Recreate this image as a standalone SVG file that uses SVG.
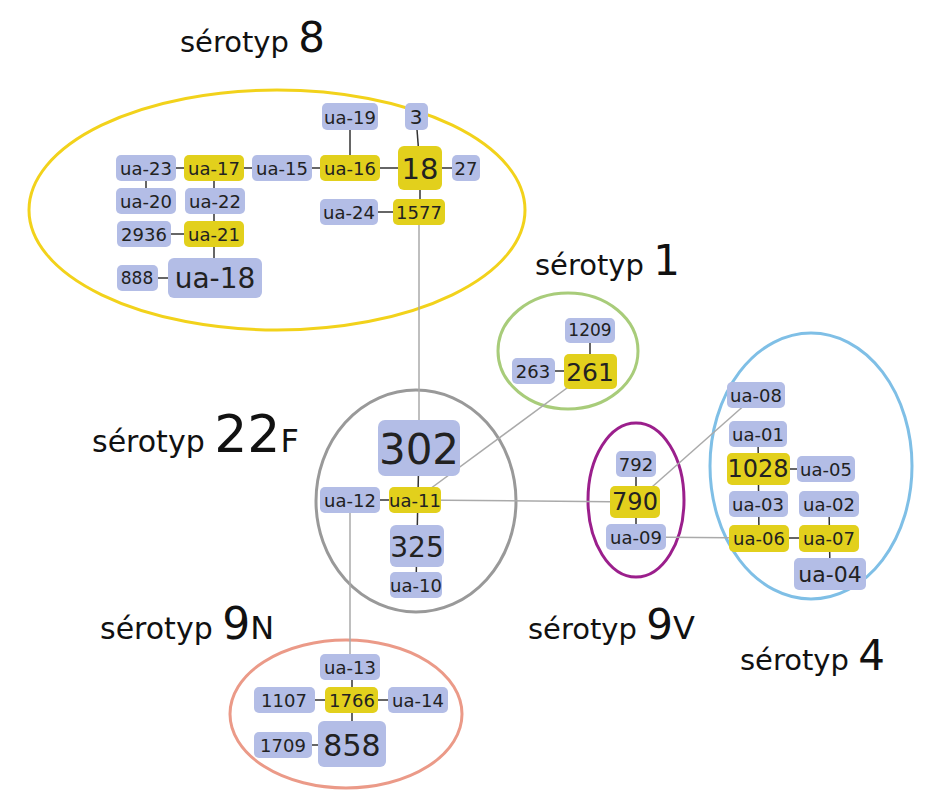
<svg xmlns="http://www.w3.org/2000/svg" width="925" height="800" viewBox="0 0 925 800">
<style>
.b{fill:#b3bde6}.y{fill:#e2d01c}
text{font-family:"DejaVu Sans","Liberation Sans",sans-serif;fill:#222;text-anchor:middle;dominant-baseline:central}
.s line{stroke:#333;stroke-width:1.5}.l line{stroke:#aaa;stroke-width:1.5}
.lab{text-anchor:start;dominant-baseline:auto;fill:#111}
</style>
<rect width="925" height="800" fill="#fff"/>
<g id="groups" fill="none" stroke-width="3">
<ellipse cx="277" cy="210" rx="248" ry="120" stroke="#f2d21b"/>
<ellipse cx="568" cy="351" rx="70" ry="58" stroke="#a8cc7a"/>
<ellipse cx="416" cy="501" rx="100" ry="111" stroke="#999"/>
<ellipse cx="636" cy="500" rx="48" ry="77" stroke="#9b1f8c"/>
<ellipse cx="811" cy="466" rx="101" ry="133" stroke="#7fbfe6"/>
<ellipse cx="346" cy="714" rx="116" ry="74" stroke="#eb9a88"/>
</g>
<g id="labels">
<text class="lab" x="180" y="52" font-size="29">sérotyp <tspan font-size="42">8</tspan></text>
<text class="lab" x="535" y="275" font-size="29">sérotyp <tspan font-size="42">1</tspan></text>
<text class="lab" x="92" y="452" font-size="30">sérotyp <tspan font-size="52">22</tspan><tspan font-size="32">F</tspan></text>
<text class="lab" x="100" y="639" font-size="30">sérotyp <tspan font-size="44">9</tspan><tspan font-size="32">N</tspan></text>
<text class="lab" x="528" y="639" font-size="29">sérotyp <tspan font-size="42">9</tspan><tspan font-size="32">V</tspan></text>
<text class="lab" x="740" y="670" font-size="29">sérotyp <tspan font-size="42">4</tspan></text>
</g>
<g id="connectors">
<g class="l">
<line x1="419" y1="212" x2="419" y2="440"/>
<line x1="415" y1="500" x2="590" y2="371"/>
<line x1="415" y1="500" x2="635" y2="502"/>
<line x1="635" y1="502" x2="756" y2="395"/>
<line x1="636" y1="537" x2="759" y2="538"/>
<line x1="350" y1="500" x2="350" y2="667"/>
</g>
<g class="s">
<line x1="350" y1="117" x2="350" y2="168"/>
<line x1="416" y1="117" x2="420" y2="168"/>
<line x1="146" y1="168" x2="466" y2="168"/>
<line x1="146" y1="168" x2="146" y2="201"/>
<line x1="214" y1="168" x2="214" y2="278"/>
<line x1="144" y1="234" x2="214" y2="234"/>
<line x1="137" y1="278" x2="215" y2="278"/>
<line x1="420" y1="168" x2="420" y2="212"/>
<line x1="349" y1="212" x2="419" y2="212"/>
<line x1="419" y1="448" x2="416" y2="585"/>
<line x1="350" y1="500" x2="415" y2="500"/>
<line x1="533" y1="371" x2="590" y2="371"/>
<line x1="590" y1="330" x2="590" y2="371"/>
<line x1="636" y1="464" x2="636" y2="537"/>
<line x1="758" y1="434" x2="759" y2="538"/>
<line x1="758" y1="469" x2="826" y2="469"/>
<line x1="759" y1="538" x2="829" y2="538"/>
<line x1="829" y1="504" x2="830" y2="574"/>
<line x1="352" y1="667" x2="352" y2="745"/>
<line x1="284" y1="700" x2="418" y2="700"/>
<line x1="283" y1="745" x2="352" y2="745"/>
</g>
</g>
<g id="n-ua19"><rect class="b" x="322" y="103" width="56" height="27" rx="5"/><text x="350" y="117" font-size="18">ua-19</text></g>
<g id="n-3"><rect class="b" x="405" y="103" width="23" height="27" rx="5"/><text x="416" y="117" font-size="20">3</text></g>
<g id="n-ua16"><rect class="y" x="320" y="155" width="60" height="26" rx="5"/><text x="350" y="168" font-size="18">ua-16</text></g>
<g id="n-18"><rect class="y" x="398" y="146" width="44" height="44" rx="6"/><text x="420" y="169" font-size="29">18</text></g>
<g id="n-27"><rect class="b" x="452" y="155" width="28" height="26" rx="5"/><text x="466" y="168" font-size="18">27</text></g>
<g id="n-ua15"><rect class="b" x="252" y="155" width="60" height="26" rx="5"/><text x="282" y="168" font-size="18">ua-15</text></g>
<g id="n-ua17"><rect class="y" x="184" y="155" width="60" height="26" rx="5"/><text x="214" y="168" font-size="18">ua-17</text></g>
<g id="n-ua23"><rect class="b" x="116" y="155" width="60" height="26" rx="5"/><text x="146" y="168" font-size="18">ua-23</text></g>
<g id="n-ua20"><rect class="b" x="116" y="188" width="60" height="26" rx="5"/><text x="146" y="201" font-size="18">ua-20</text></g>
<g id="n-ua22"><rect class="b" x="185" y="188" width="60" height="26" rx="5"/><text x="215" y="201" font-size="18">ua-22</text></g>
<g id="n-ua21"><rect class="y" x="184" y="221" width="60" height="26" rx="5"/><text x="214" y="234" font-size="18">ua-21</text></g>
<g id="n-2936"><rect class="b" x="117" y="221" width="54" height="26" rx="5"/><text x="144" y="234" font-size="18">2936</text></g>
<g id="n-ua18"><rect class="b" x="168" y="258" width="94" height="40" rx="6"/><text x="215" y="278" font-size="28">ua-18</text></g>
<g id="n-888"><rect class="b" x="117" y="265" width="41" height="26" rx="5"/><text x="137" y="278" font-size="17">888</text></g>
<g id="n-ua24"><rect class="b" x="320" y="199" width="58" height="26" rx="5"/><text x="349" y="212" font-size="18">ua-24</text></g>
<g id="n-1577"><rect class="y" x="393" y="199" width="52" height="26" rx="5"/><text x="419" y="212" font-size="18">1577</text></g>
<g id="n-1209"><rect class="b" x="565" y="318" width="50" height="25" rx="5"/><text x="590" y="330" font-size="17">1209</text></g>
<g id="n-261"><rect class="y" x="564" y="354" width="53" height="35" rx="5"/><text x="590" y="372" font-size="25">261</text></g>
<g id="n-263"><rect class="b" x="512" y="358" width="43" height="26" rx="5"/><text x="533" y="371" font-size="18">263</text></g>
<g id="n-302"><rect class="b" x="378" y="420" width="82" height="56" rx="7"/><text x="419" y="449" font-size="42">302</text></g>
<g id="n-ua11"><rect class="y" x="389" y="487" width="52" height="26" rx="5"/><text x="415" y="500" font-size="18">ua-11</text></g>
<g id="n-ua12"><rect class="b" x="320" y="487" width="60" height="26" rx="5"/><text x="350" y="500" font-size="18">ua-12</text></g>
<g id="n-325"><rect class="b" x="390" y="525" width="54" height="42" rx="6"/><text x="417" y="547" font-size="28">325</text></g>
<g id="n-ua10"><rect class="b" x="390" y="572" width="52" height="26" rx="5"/><text x="416" y="585" font-size="18">ua-10</text></g>
<g id="n-792"><rect class="b" x="616" y="451" width="40" height="26" rx="5"/><text x="636" y="464" font-size="18">792</text></g>
<g id="n-790"><rect class="y" x="610" y="486" width="50" height="32" rx="5"/><text x="635" y="502" font-size="24">790</text></g>
<g id="n-ua09"><rect class="b" x="606" y="524" width="60" height="26" rx="5"/><text x="636" y="537" font-size="18">ua-09</text></g>
<g id="n-ua08"><rect class="b" x="727" y="382" width="58" height="26" rx="5"/><text x="756" y="395" font-size="18">ua-08</text></g>
<g id="n-ua01"><rect class="b" x="729" y="421" width="58" height="26" rx="5"/><text x="758" y="434" font-size="18">ua-01</text></g>
<g id="n-1028"><rect class="y" x="727" y="453" width="63" height="32" rx="5"/><text x="758" y="469" font-size="24">1028</text></g>
<g id="n-ua05"><rect class="b" x="797" y="456" width="58" height="26" rx="5"/><text x="826" y="469" font-size="18">ua-05</text></g>
<g id="n-ua03"><rect class="b" x="729" y="491" width="59" height="26" rx="5"/><text x="758" y="504" font-size="18">ua-03</text></g>
<g id="n-ua02"><rect class="b" x="799" y="491" width="60" height="26" rx="5"/><text x="829" y="504" font-size="18">ua-02</text></g>
<g id="n-ua06"><rect class="y" x="729" y="525" width="60" height="27" rx="5"/><text x="759" y="538" font-size="18">ua-06</text></g>
<g id="n-ua07"><rect class="y" x="799" y="525" width="60" height="27" rx="5"/><text x="829" y="538" font-size="18">ua-07</text></g>
<g id="n-ua04"><rect class="b" x="794" y="558" width="72" height="32" rx="5"/><text x="830" y="574" font-size="22">ua-04</text></g>
<g id="n-ua13"><rect class="b" x="320" y="654" width="60" height="26" rx="5"/><text x="350" y="667" font-size="18">ua-13</text></g>
<g id="n-1766"><rect class="y" x="325" y="687" width="53" height="26" rx="5"/><text x="352" y="700" font-size="18">1766</text></g>
<g id="n-ua14"><rect class="b" x="388" y="687" width="60" height="26" rx="5"/><text x="418" y="700" font-size="18">ua-14</text></g>
<g id="n-1107"><rect class="b" x="254" y="687" width="61" height="26" rx="5"/><text x="284" y="700" font-size="18">1107</text></g>
<g id="n-858"><rect class="b" x="318" y="721" width="68" height="46" rx="6"/><text x="352" y="745" font-size="30">858</text></g>
<g id="n-1709"><rect class="b" x="254" y="732" width="58" height="26" rx="5"/><text x="283" y="745" font-size="18">1709</text></g>
</svg>
